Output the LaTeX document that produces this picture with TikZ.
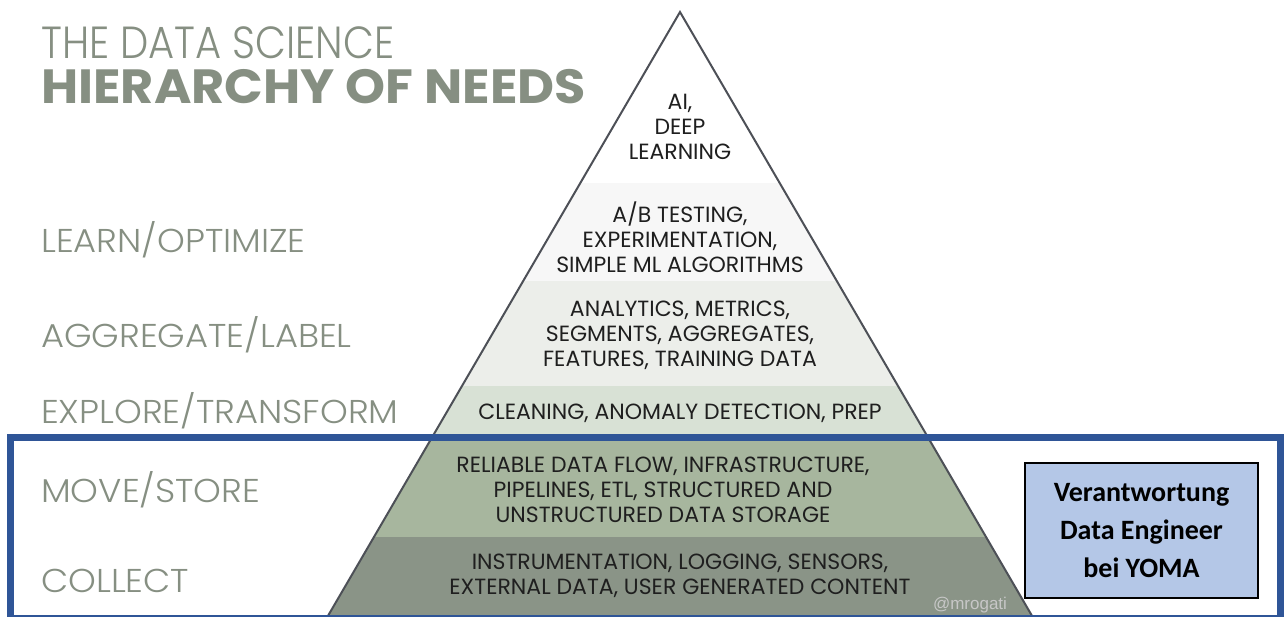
\documentclass[tikz,border=0pt]{standalone}
\usepackage{fontspec}
\usetikzlibrary{calc}
\setmainfont{Poppins}
\newfontfamily\futura{Poppins}[FakeStretch=1.0]
\newfontfamily\futuralight{Poppins}[UprightFont=* Light,FakeStretch=1.07]
\newfontfamily\futuratitle{Poppins}[UprightFont=* Light,FakeStretch=0.89]
\newfontfamily\futuraheavy{Poppins}[UprightFont=* Bold,FakeStretch=1.06]
\newfontfamily\calibri{Carlito}
\newfontfamily\helv{Liberation Sans}
\definecolor{sage}{HTML}{868F82}
\definecolor{edgegray}{HTML}{4D5057}
\definecolor{layB}{HTML}{F7F7F7}
\definecolor{layC}{HTML}{ECEEEA}
\definecolor{layD}{HTML}{D8E1D5}
\definecolor{layE}{HTML}{A7B69E}
\definecolor{layF}{HTML}{8A9487}
\definecolor{frameblue}{HTML}{2F5597}
\definecolor{boxblue}{HTML}{B4C7E7}
\tikzset{
  need/.style={anchor=base west, inner sep=0pt, text=sage, font=\futuralight\fontsize{33}{33}\selectfont},
  tier/.style={align=center, inner sep=0pt, text=black!88, font=\futura\fontsize{22}{25}\selectfont}
}

\begin{document}
\begin{tikzpicture}[x=1pt, y=-1pt]
  \useasboundingbox (0,0) rectangle (1288,616);
  \coordinate (apex) at (680,12);
  \coordinate (bl) at (327.9,616);
  \coordinate (br) at (1032.1,616);
  % pyramid layers, top to bottom
  \foreach \ya/\yb/\col in {12/183/white, 183/281/layB, 281/386/layC, 386/438/layD, 438/537/layE, 537/616/layF}
    \fill[\col] ($(apex)!{(\ya-12)/604}!(bl)$) -- ($(apex)!{(\yb-12)/604}!(bl)$)
      -- ($(apex)!{(\yb-12)/604}!(br)$) -- ($(apex)!{(\ya-12)/604}!(br)$) -- cycle;
  \draw[edgegray, line width=2pt, line join=miter] (bl) -- (apex) -- (br);

  \node[need, font=\futuratitle\fontsize{45}{45}\selectfont] (title1) at (41,58) {THE DATA SCIENCE};
  \node[need, font=\futuraheavy\fontsize{48}{48}\selectfont] (title2) at (41,103) {HIERARCHY OF NEEDS};

  \node[need] (learn) at (41,252) {LEARN/OPTIMIZE};
  \node[need] (aggr) at (41,347) {AGGREGATE/LABEL};
  \node[need] (explore) at (41,423) {EXPLORE/TRANSFORM};
  \node[need] (move) at (41,502) {MOVE/STORE};
  \node[need] (collect) at (41,592) {COLLECT};

  \node[tier] (ai) at (680,127) {AI,\\DEEP\\LEARNING};
  \node[tier] (ab) at (680,237) {A/B TESTING,\\EXPERIMENTATION,\\SIMPLE ML ALGORITHMS};
  \node[tier] (analytics) at (680,335) {ANALYTICS, METRICS,\\SEGMENTS, AGGREGATES,\\FEATURES, TRAINING DATA};
  \node[tier] (cleaning) at (680,413) {CLEANING, ANOMALY DETECTION, PREP};
  \node[tier] (reliable) at (663,490) {RELIABLE DATA FLOW, INFRASTRUCTURE,\\PIPELINES, ETL, STRUCTURED AND\\UNSTRUCTURED DATA STORAGE};
  \node[tier] (instr) at (680,576) {INSTRUMENTATION, LOGGING, SENSORS,\\EXTERNAL DATA, USER GENERATED CONTENT};
  \node[anchor=base, inner sep=0pt, text=black!22, font=\helv\fontsize{17}{17}\selectfont] (credit) at (970,609) {@mrogati};

  \draw[frameblue, line width=7pt] (10.5,437.5) rectangle (1280,618);
  \node[draw=black, line width=1.3pt, fill=boxblue, minimum width=233pt, minimum height=135pt,
    align=center, font=\calibri\bfseries\fontsize{28}{38}\selectfont] (yoma) at (1141.5,530.5)
    {Verantwortung\\Data Engineer\\bei YOMA};
\end{tikzpicture}
\end{document}
